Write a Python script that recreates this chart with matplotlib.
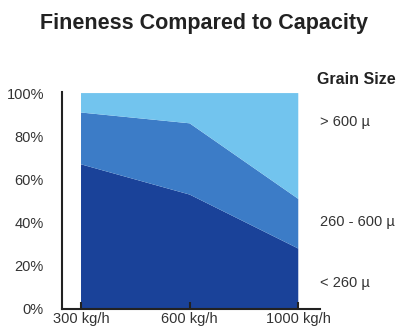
import numpy as np
import matplotlib
matplotlib.use("Agg")
import matplotlib.pyplot as plt

plt.rcParams['font.family'] = ['Liberation Sans', 'DejaVu Sans']

# capacity categories and share of each grain size (percent)
capacity = ["300 kg/h", "600 kg/h", "1000 kg/h"]
fine = [67, 53, 28]        # < 260 µ
medium = [24, 33, 23]      # 260 - 600 µ
coarse = [9, 14, 49]       # > 600 µ
grain_labels = ["< 260 µ", "260 - 600 µ", "> 600 µ"]
colors = ["#1a4299", "#3c7cc7", "#72c4ee"]

fig = plt.figure(figsize=(4.02, 3.28), dpi=100)
ax = fig.add_axes([62/402, 19/328, 258/402, 217/328])

x = np.arange(len(capacity))
ax.stackplot(x, fine, medium, coarse, colors=colors, linewidth=0)

ax.set_xlim(-0.175, 2.20)
ax.set_ylim(0, 100.5)

for s in ["top", "right"]:
    ax.spines[s].set_visible(False)
for s in ["left", "bottom"]:
    ax.spines[s].set_linewidth(1.5)
    ax.spines[s].set_color("#222222")

ax.set_xticks(x)
ax.set_xticklabels(capacity, fontsize=10.5, color="#333333")
ax.tick_params(axis="x", direction="in", length=5, width=1.5, color="#222222", pad=2)
ax.set_yticks([0, 20, 40, 60, 80, 100])
ax.set_yticklabels(["0%", "20%", "40%", "60%", "80%", "100%"], fontsize=10.5, color="#333333")
ax.tick_params(axis="y", length=0, pad=13)

fig.text(204/402, 1 - 24/328, "Fineness Compared to Capacity", ha="center", va="center",
         fontsize=15.5, fontweight="bold", color="#222222")
fig.text(317/402, 1 - 79/328, "Grain Size", ha="left", va="center",
         fontsize=11.5, fontweight="bold", color="#222222")

label_y = [283, 222, 122]
for lab, yy in zip(grain_labels, label_y):
    fig.text(320/402, 1 - yy/328, lab, ha="left", va="center", fontsize=10.5, color="#333333")

fig.savefig("out.png", dpi=100)
